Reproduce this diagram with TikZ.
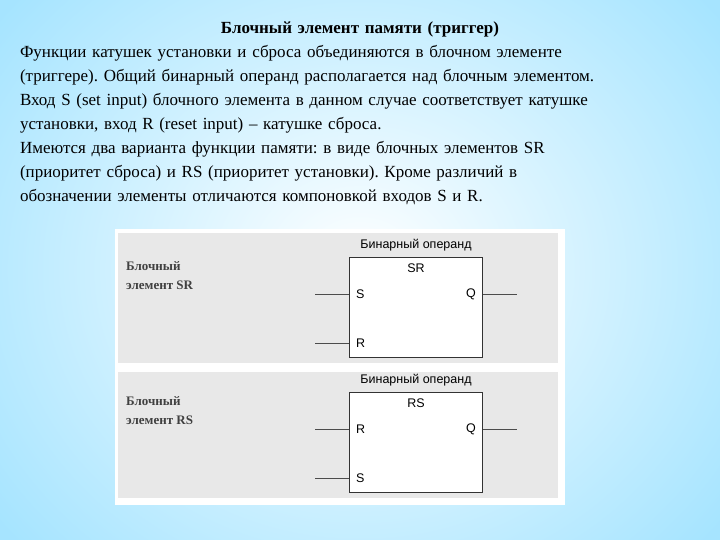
\documentclass[tikz,border=0pt]{standalone}
\usepackage{fontspec}
\setmainfont{Liberation Serif}
\newfontfamily\arial{Liberation Sans}
\begin{document}
\begin{tikzpicture}[x=1pt,y=-1pt,
  lbl/.style={font=\arial\fontsize{12.5}{14}\selectfont, inner sep=0pt},
  wire/.style={draw=black!70, line width=1pt},
  blk/.style={draw=black!80, line width=1pt, fill=white}]
\useasboundingbox (0,0) rectangle (720,540);
\shade[inner color=white, middle color=white, outer color=blue!30!cyan!35] (-100,-140) rectangle (820,680);
\node[anchor=north, text width=680pt, inner sep=0pt, font=\fontsize{17}{24}\selectfont] (txt) at (360,22)
{\frenchspacing\hyphenpenalty=10000
{\centering\textbf{Блочный элемент памяти (триггер)}\par}
Функции катушек установки и сброса объединяются в блочном элементе\linebreak (триггере). Общий бинарный операнд располагается над блочным элементом.\linebreak Вход S (set input) блочного элемента в данном случае соответствует катушке\linebreak установки, вход R (reset input) – катушке сброса.\par
Имеются два варианта функции памяти: в виде блочных элементов SR\linebreak (приоритет сброса) и RS (приоритет установки). Кроме различий в\linebreak обозначении элементы отличаются компоновкой входов S и R.\par};
\fill[white] (115,229) rectangle (565,505);
\fill[black!9] (118,233) rectangle (558,363);
\fill[black!9] (118,372) rectangle (558,498);
\foreach \y/\n/\a/\b in {0/SR/S/R, 135/RS/R/S}{
  \begin{scope}[yshift=-\y]
  \node[blk, minimum width=133pt, minimum height=100pt, anchor=north west] (b\n) at (349,257) {};
  \node[lbl] (op\n) at (416,245) {Бинарный операнд};
  \node[lbl] (t\n) at (416,268) {\n};
  \node[lbl, anchor=west] (i1\n) at (356,294) {\a};
  \node[lbl, anchor=west] (i2\n) at (356,343) {\b};
  \node[lbl, anchor=east] (q\n) at (476,294) {Q};
  \coordinate (l1\n) at (315,294);
  \coordinate (l2\n) at (315,343);
  \coordinate (r\n) at (517,294);
  \draw[wire] (l1\n) -- (b\n.west |- l1\n);
  \draw[wire] (l2\n) -- (b\n.west |- l2\n);
  \draw[wire] (b\n.east |- r\n) -- (r\n);
  \node[anchor=west, align=left, inner sep=0pt, font=\bfseries\fontsize{13}{19}\selectfont, text=black!75] (n\n) at (126,276) {Блочный\\элемент \n};
  \end{scope}}
\end{tikzpicture}
\end{document}
